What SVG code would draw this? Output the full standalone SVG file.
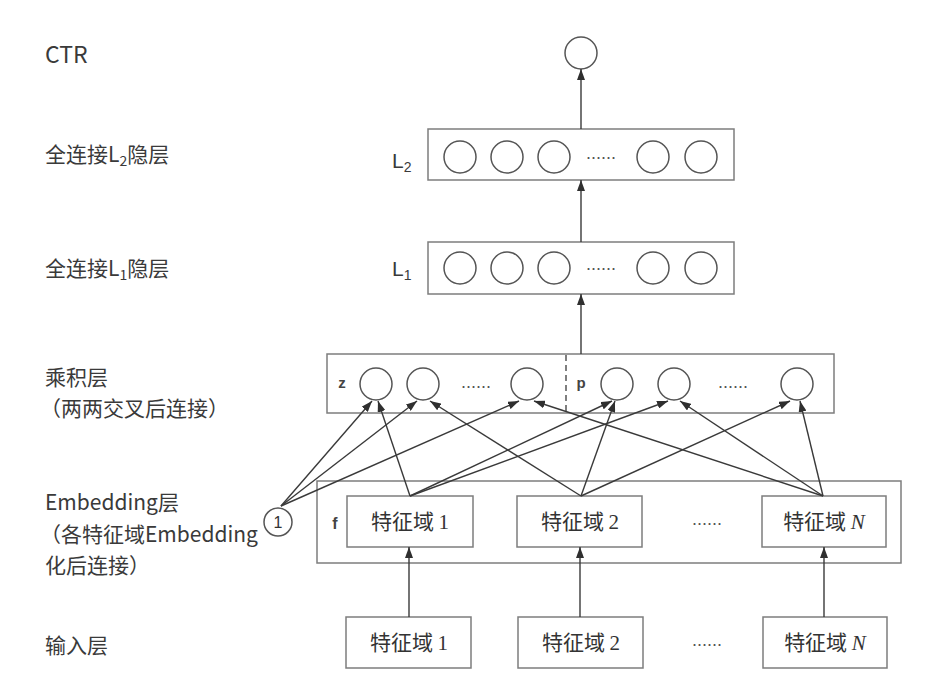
<svg xmlns="http://www.w3.org/2000/svg" width="933" height="699" viewBox="0 0 933 699">
<defs>
<marker id="ah" markerWidth="11" markerHeight="8" refX="11" refY="4" orient="auto" markerUnits="userSpaceOnUse"><path d="M0,0 L11,4 L0,8 Z" fill="#2f2f2f"/></marker>
<style>
.lbl{font-family:"Noto Sans CJK SC","Noto Sans",sans-serif;font-size:21px;fill:#3a3a3a}
.box{fill:#fff;stroke:#7d7d7d;stroke-width:1.5}
.nd{fill:#fff;stroke:#555;stroke-width:1.5}
.cn{stroke:#3a3a3a;stroke-width:1.4;fill:none;marker-end:url(#ah)}
.dots{font-family:"Liberation Sans",sans-serif;font-size:18px;fill:#555;text-anchor:middle}
.ft{font-family:"Noto Sans CJK SC",sans-serif;font-size:21px;fill:#333;text-anchor:middle}
.num{font-family:"Liberation Serif",serif}
.tag{font-family:"Liberation Sans",sans-serif;font-size:15px;font-weight:bold;fill:#444;text-anchor:middle}
.lt{font-family:"Liberation Sans",sans-serif;font-size:21px;fill:#3a3a3a}
</style>
</defs>
<rect width="933" height="699" fill="#fff"/>

<g id="labels">
<text class="lbl" x="45" y="63" style="font-size:23px">CTR</text>
<text class="lbl" x="45" y="162">全连接L<tspan dy="4" style="font-size:14px">2</tspan><tspan dy="-4">隐层</tspan></text>
<text class="lbl" x="45" y="276">全连接L<tspan dy="4" style="font-size:14px">1</tspan><tspan dy="-4">隐层</tspan></text>
<text class="lbl" x="45" y="385">乘积层</text>
<text class="lbl" x="40" y="416">（两两交叉后连接）</text>
<text class="lbl" x="45" y="510">Embedding层</text>
<text class="lbl" x="40" y="542">（各特征域Embedding</text>
<text class="lbl" x="45" y="573">化后连接）</text>
<text class="lbl" x="45" y="653">输入层</text>
</g>

<g id="ctr">
<circle class="nd" cx="581" cy="53" r="16"/>
</g>

<g id="l2">
<text class="lt" x="392" y="168">L<tspan dy="4" style="font-size:14px">2</tspan></text>
<rect class="box" x="428" y="129" width="306" height="51"/>
<circle class="nd" cx="460" cy="157" r="16"/>
<circle class="nd" cx="507" cy="157" r="16"/>
<circle class="nd" cx="554" cy="157" r="16"/>
<text class="dots" x="601" y="159">......</text>
<circle class="nd" cx="653" cy="157" r="16"/>
<circle class="nd" cx="701" cy="157" r="16"/>
</g>

<g id="l1">
<text class="lt" x="392" y="276">L<tspan dy="4" style="font-size:14px">1</tspan></text>
<rect class="box" x="428" y="242" width="306" height="52"/>
<circle class="nd" cx="460" cy="268" r="16"/>
<circle class="nd" cx="507" cy="268" r="16"/>
<circle class="nd" cx="554" cy="268" r="16"/>
<text class="dots" x="601" y="270">......</text>
<circle class="nd" cx="653" cy="268" r="16"/>
<circle class="nd" cx="701" cy="268" r="16"/>
</g>

<g id="product">
<rect class="box" x="327" y="354" width="507" height="59"/>
<line x1="566" y1="355" x2="566" y2="412" stroke="#555" stroke-width="1.5" stroke-dasharray="6 4"/>
<text class="tag" x="342" y="388">z</text>
<text class="tag" x="581" y="388">p</text>
<circle class="nd" cx="376" cy="384" r="16"/>
<circle class="nd" cx="423" cy="384" r="16"/>
<text class="dots" x="476" y="388">......</text>
<circle class="nd" cx="527" cy="384" r="16"/>
<circle class="nd" cx="617" cy="384" r="16"/>
<circle class="nd" cx="674" cy="384" r="16"/>
<text class="dots" x="733" y="388">......</text>
<circle class="nd" cx="797" cy="384" r="16"/>
</g>

<g id="one">
<circle class="nd" cx="278" cy="522" r="14"/>
<text x="278" y="528" text-anchor="middle" style="font-family:'Liberation Sans',sans-serif;font-size:16px;fill:#333">1</text>
</g>

<g id="embedding">
<rect class="box" x="317" y="481" width="584" height="82"/>
<text x="335" y="529" text-anchor="middle" style="font-family:'Liberation Sans',sans-serif;font-size:16px;font-weight:bold;fill:#444">f</text>
</g>
<g id="emb1">
<rect class="box" x="347" y="496" width="126" height="51"/>
<text class="ft" x="410" y="529">特征域 <tspan class="num">1</tspan></text>
</g>
<g id="emb2">
<rect class="box" x="517" y="496" width="125" height="51"/>
<text class="ft" x="580" y="529">特征域 <tspan class="num">2</tspan></text>
</g>
<text class="dots" x="707" y="525">......</text>
<g id="embN">
<rect class="box" x="762" y="496" width="124" height="51"/>
<text class="ft" x="824" y="529">特征域 <tspan class="num" font-style="italic">N</tspan></text>
</g>

<g id="in1">
<rect class="box" x="346" y="617" width="125" height="51"/>
<text class="ft" x="409" y="650">特征域 <tspan class="num">1</tspan></text>
</g>
<g id="in2">
<rect class="box" x="518" y="617" width="125" height="51"/>
<text class="ft" x="581" y="650">特征域 <tspan class="num">2</tspan></text>
</g>
<text class="dots" x="707" y="646">......</text>
<g id="inN">
<rect class="box" x="763" y="617" width="124" height="51"/>
<text class="ft" x="825" y="650">特征域 <tspan class="num" font-style="italic">N</tspan></text>
</g>

<g id="connectors">
<line class="cn" x1="581" y1="129" x2="581" y2="69"/>
<line class="cn" x1="581" y1="242" x2="581" y2="180"/>
<line class="cn" x1="581" y1="354" x2="581" y2="294"/>
<line class="cn" x1="409" y1="617" x2="409" y2="547"/>
<line class="cn" x1="580" y1="617" x2="580" y2="547"/>
<line class="cn" x1="824" y1="617" x2="824" y2="547"/>
<line class="cn" x1="281" y1="506" x2="372" y2="401"/>
<line class="cn" x1="281" y1="506" x2="417" y2="401"/>
<line class="cn" x1="281" y1="506" x2="519" y2="401"/>
<line class="cn" x1="410" y1="496" x2="378" y2="401"/>
<line class="cn" x1="410" y1="496" x2="612" y2="401"/>
<line class="cn" x1="410" y1="496" x2="668" y2="401"/>
<line class="cn" x1="581" y1="496" x2="430" y2="401"/>
<line class="cn" x1="581" y1="496" x2="615" y2="401"/>
<line class="cn" x1="581" y1="496" x2="790" y2="401"/>
<line class="cn" x1="823" y1="496" x2="534" y2="401"/>
<line class="cn" x1="823" y1="496" x2="680" y2="401"/>
<line class="cn" x1="823" y1="496" x2="800" y2="401"/>
</g>
</svg>
